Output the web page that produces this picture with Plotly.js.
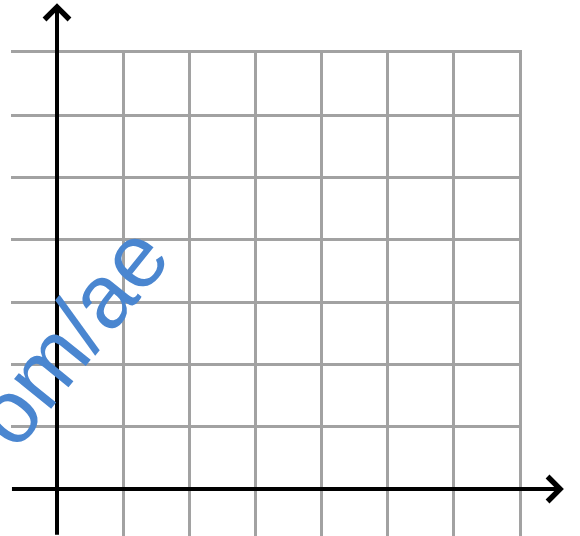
<!DOCTYPE html>
<html><head><meta charset="utf-8">
<script src="https://cdn.plot.ly/plotly-3.0.1.min.js"></script>
<style>html,body{margin:0;padding:0;background:#fff;overflow:hidden}</style>
</head><body><div id="chart" style="width:580px;height:536px"></div>
<script>
// grid positions (in axis units)
const gridX = [1, 2, 3, 4, 5, 6, 7];
const gridY = [1, 2, 3, 4, 5, 6, 7];
// axis arrows: [tail, head]
const xArrow = [-0.69, 7.68];
const yArrow = [-0.75, 7.8];
// visible axis ranges
const xRange = [-0.697, 7];
const yRange = [-0.7546, 7];
const watermark = "om/ae";

const gridStyle = {showticklabels: false, ticks: '', showgrid: true, gridcolor: '#a2a2a2', gridwidth: 3,
                   zeroline: false, showline: true, linecolor: '#a2a2a2', linewidth: 3, mirror: false, fixedrange: true};

const arrowStyle = {xref: 'x', yref: 'y', axref: 'x', ayref: 'y', text: ' ', font: {size: 1}, borderpad: 0,
                    showarrow: true, arrowhead: 4, arrowsize: 1.2, arrowwidth: 4, arrowcolor: '#000000', standoff: 0};

const layout = {
  width: 580, height: 536,
  margin: {l: 11, r: 61, t: 53, b: 0, pad: 0},
  paper_bgcolor: '#ffffff', plot_bgcolor: '#ffffff',
  showlegend: false,
  xaxis: Object.assign({range: xRange, tickvals: gridX, side: 'top'}, gridStyle),
  yaxis: Object.assign({range: yRange, tickvals: gridY, side: 'right'}, gridStyle),
  annotations: [
    Object.assign({x: xArrow[1], y: 0, ax: xArrow[0], ay: 0}, arrowStyle),
    Object.assign({x: 0, y: yArrow[1], ax: 0, ay: yArrow[0]}, arrowStyle),
    {xref: 'paper', yref: 'paper', x: 0.116, y: 0.415, xanchor: 'center', yanchor: 'middle',
     text: watermark, textangle: -51, showarrow: false,
     font: {family: 'Liberation Sans, Arial, sans-serif', size: 90, color: '#4a86d0'}}
  ]
};

Plotly.newPlot('chart', [{x: [], y: [], type: 'scatter', mode: 'markers', hoverinfo: 'skip'}], layout,
  {displayModeBar: false, staticPlot: true});
</script>
</body></html>
